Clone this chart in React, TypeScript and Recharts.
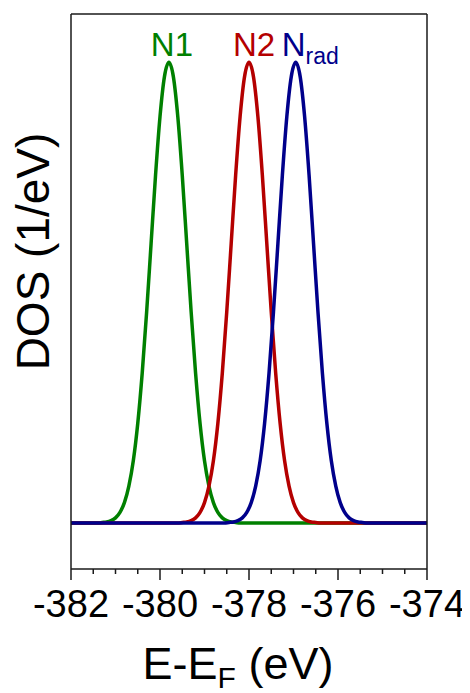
import React from 'react';
import { LineChart, Line, XAxis, YAxis, ReferenceDot } from 'recharts';

// ---- data ----
const n1Energy = [-382, -381.4, -381.3, -381.2, -381.1, -381.0, -380.9, -380.8, -380.7, -380.6, -380.5, -380.4, -380.3, -380.2, -380.1, -380.0, -379.9, -379.8, -379.7, -379.6, -379.5, -379.4, -379.3, -379.2, -379.1, -379.0, -378.9, -378.8, -378.7, -378.6, -378.5, -378.4, -378.3, -378.2, -374];
const n1Dos = [0, 0.000, 0.001, 0.002, 0.005, 0.011, 0.023, 0.044, 0.080, 0.135, 0.216, 0.325, 0.458, 0.607, 0.755, 0.882, 0.969, 1.000, 0.969, 0.882, 0.755, 0.607, 0.458, 0.325, 0.216, 0.135, 0.080, 0.044, 0.023, 0.011, 0.005, 0.002, 0.001, 0.000, 0];

const n2Energy = [-382, -379.6, -379.5, -379.4, -379.3, -379.2, -379.1, -379.0, -378.9, -378.8, -378.7, -378.6, -378.5, -378.4, -378.3, -378.2, -378.1, -378.0, -377.9, -377.8, -377.7, -377.6, -377.5, -377.4, -377.3, -377.2, -377.1, -377.0, -376.9, -376.8, -376.7, -376.6, -376.5, -376.4, -374];
const n2Dos = [0, 0.000, 0.001, 0.002, 0.005, 0.011, 0.023, 0.044, 0.080, 0.135, 0.216, 0.325, 0.458, 0.607, 0.755, 0.882, 0.969, 1.000, 0.969, 0.882, 0.755, 0.607, 0.458, 0.325, 0.216, 0.135, 0.080, 0.044, 0.023, 0.011, 0.005, 0.002, 0.001, 0.000, 0];

const nradEnergy = [-382, -378.55, -378.45, -378.35, -378.25, -378.15, -378.05, -377.95, -377.85, -377.75, -377.65, -377.55, -377.45, -377.35, -377.25, -377.15, -377.05, -376.95, -376.85, -376.75, -376.65, -376.55, -376.45, -376.35, -376.25, -376.15, -376.05, -375.95, -375.85, -375.75, -375.65, -375.55, -375.45, -375.35, -374];
const nradDos = [0, 0.000, 0.001, 0.002, 0.005, 0.011, 0.023, 0.044, 0.080, 0.135, 0.216, 0.325, 0.458, 0.607, 0.755, 0.882, 0.969, 1.000, 0.969, 0.882, 0.755, 0.607, 0.458, 0.325, 0.216, 0.135, 0.080, 0.044, 0.023, 0.011, 0.005, 0.002, 0.001, 0.000, 0];

const majorTicks = [-382, -380, -378, -376, -374];
const allTicks = [-382, -381.5, -381, -380.5, -380, -379.5, -379, -378.5, -378, -377.5, -377, -376.5, -376, -375.5, -375, -374.5, -374];

const peakNames = ['N1', 'N2', 'N'];
const peakSubs = ['', '', 'rad'];
const peakEnergy = [-379.8, -378.0, -376.95];
const peakDos = [1, 1, 1];

const xDomain = [-382, -374];
const yDomain = [-0.1, 1.105];

// ---- styling ----
const FONT = '"Liberation Sans", Arial, Helvetica, sans-serif';
const GREEN = '#008000';
const RED = '#b40000';
const BLUE = '#00008b';
const AXIS = '#1a1a1a';
const colors = [GREEN, RED, BLUE];

const toSeries = (xs: number[], ys: number[]) => xs.map((e, i) => ({ e, dos: ys[i] }));
const n1Data = toSeries(n1Energy, n1Dos);
const n2Data = toSeries(n2Energy, n2Dos);
const nradData = toSeries(nradEnergy, nradDos);

function Tick(props: any) {
  const { x, y, payload } = props;
  const v = payload.value;
  const major = majorTicks.indexOf(v) >= 0;
  return (
    <g>
      <line x1={x} x2={x} y1={y} y2={y + (major ? 11 : 5)} stroke={AXIS} strokeWidth={1.5} />
      {major && (
        <text x={x} y={y + 48} textAnchor="middle" fontSize={38} fontFamily={FONT} fill="#000">
          {String(v)}
        </text>
      )}
    </g>
  );
}

const XTitle = (props: any) => {
  const vb = props.viewBox;
  const cx = vb.x + vb.width / 2 - 11;
  return (
    <text x={cx} y={vb.y + 110} textAnchor="middle" fontSize={45} fontFamily={FONT} fill="#000">
      <tspan>E-E</tspan>
      <tspan dy={9} fontSize={30}>F</tspan>
      <tspan dy={-9}> (eV)</tspan>
    </text>
  );
};

const YTitle = (props: any) => {
  const vb = props.viewBox;
  const x = vb.x + vb.width - 22;
  const y = vb.y + vb.height / 2 - 40;
  return (
    <text x={x} y={y} transform={`rotate(-90, ${x}, ${y})`} textAnchor="middle" fontSize={46} fontFamily={FONT} fill="#000">
      DOS (1/eV)
    </text>
  );
};

const makePeakLabel = (i: number) => (props: any) => {
  const vb = props.viewBox;
  const cx = vb.x + vb.width / 2;
  const cy = vb.y + vb.height / 2;
  if (peakSubs[i]) {
    return (
      <text x={cx - 14} y={cy - 6.5} textAnchor="start" fontSize={33} fontFamily={FONT} fill={colors[i]}>
        <tspan>{peakNames[i]}</tspan>
        <tspan dy={8} fontSize={23}>{peakSubs[i]}</tspan>
      </text>
    );
  }
  return (
    <text x={cx + (i === 0 ? 3 : 5)} y={cy - 6.5} textAnchor="middle" fontSize={33} fontFamily={FONT} fill={colors[i]}>
      {peakNames[i]}
    </text>
  );
};

export default function App() {
  return (
    <LineChart width={462} height={685} margin={{ top: 5, right: 42, bottom: 0, left: 62 }}>
      <XAxis
        xAxisId={0}
        dataKey="e"
        type="number"
        domain={xDomain}
        allowDataOverflow
        ticks={allTicks}
        interval={0}
        height={124}
        tickSize={0}
        tickMargin={0}
        tickLine={false}
        tick={<Tick />}
        axisLine={{ stroke: AXIS, strokeWidth: 1.5 }}
        label={{ content: XTitle }}
      />
      <XAxis
        xAxisId="top"
        orientation="top"
        dataKey="e"
        type="number"
        domain={xDomain}
        allowDataOverflow
        height={1}
        tick={false}
        tickLine={false}
        axisLine={{ stroke: AXIS, strokeWidth: 1.5 }}
      />
      <YAxis
        yAxisId={0}
        type="number"
        domain={yDomain}
        allowDataOverflow
        width={1}
        tick={false}
        tickLine={false}
        axisLine={{ stroke: AXIS, strokeWidth: 1.5 }}
        label={{ content: YTitle }}
      />
      <YAxis
        yAxisId="r"
        orientation="right"
        type="number"
        domain={yDomain}
        allowDataOverflow
        width={1}
        tick={false}
        tickLine={false}
        axisLine={{ stroke: AXIS, strokeWidth: 1.5 }}
      />
      <Line data={n1Data} dataKey="dos" type="monotone" stroke={GREEN} strokeWidth={3.5} dot={false} activeDot={false} isAnimationActive={false} />
      <Line data={n2Data} dataKey="dos" type="monotone" stroke={RED} strokeWidth={3.5} dot={false} activeDot={false} isAnimationActive={false} />
      <Line data={nradData} dataKey="dos" type="monotone" stroke={BLUE} strokeWidth={3.5} dot={false} activeDot={false} isAnimationActive={false} />
      {peakEnergy.map((e, i) => (
        <ReferenceDot
          key={peakNames[i] + i}
          x={e}
          y={peakDos[i]}
          r={0}
          fill="none"
          stroke="none"
          ifOverflow="visible"
          label={{ content: makePeakLabel(i) }}
        />
      ))}
    </LineChart>
  );
}
